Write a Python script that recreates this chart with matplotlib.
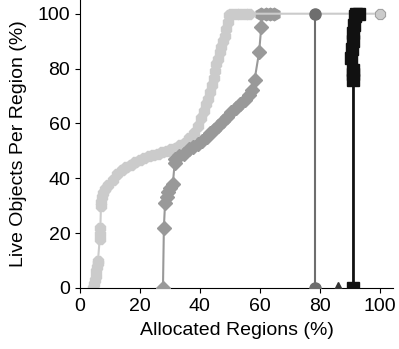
import matplotlib
matplotlib.use("Agg")
import matplotlib.pyplot as plt
import numpy as np

plt.rcParams["font.family"] = ["Liberation Sans", "DejaVu Sans"]

# Allocated regions (%) vs live objects per region (%)
light_x = [4.5, 4.8, 5.0, 5.2, 5.4, 5.6, 5.9, 6.0, 6.6, 6.7, 6.8, 7.0, 7.1, 7.3, 7.7, 8.4,
           9.5, 11.0, 12.5, 14.0, 15.5, 17.0, 18.5, 20.0, 21.5, 23.0, 24.5, 26.0, 27.5,
           29.0, 30.5, 32.0, 33.5, 35.0, 36.5, 38.0, 39.5, 40.5, 41.3, 42.0, 42.7, 43.4,
           44.0, 44.6, 45.0, 45.5, 46.0, 46.6, 47.2, 47.8, 48.3, 48.8, 49.3, 49.8, 50.5,
           52.0, 53.5, 55.0, 56.5, 100.0]
light_y = [0, 1.5, 3, 4.5, 6, 7.5, 9, 10, 18, 19.5, 22, 30, 31.5, 33, 34.5, 36,
           37.5, 39.5, 41.5, 43, 44, 45, 46, 46.8, 47.5, 48, 48.5, 49, 49.5,
           50, 50.5, 51.2, 52, 53, 54.5, 56.5, 59, 62, 64.5, 67, 69, 71.5,
           74, 76.5, 79, 81.5, 83.5, 86, 88, 90, 92, 94.5, 97, 99.5, 100,
           100, 100, 100, 100, 100]

mid_x = [27.7, 28.0, 28.4, 28.9, 29.5, 30.2, 31.0, 31.6, 31.8, 33.2, 34.8, 36.3, 37.8,
         39.3, 40.8, 42.3, 43.5, 44.8, 46.2, 47.6, 49.0, 50.5, 52.0, 53.5, 55.0, 56.5,
         57.5, 58.3, 59.8, 60.5]
mid_y = [0, 22, 31, 33, 35, 36.5, 38, 45.5, 47, 48, 49, 50.5, 51.5,
         52.5, 53.5, 55, 56.5, 57.5, 59, 61, 62.5, 64, 65.5, 67, 68.5, 70.5,
         72, 76, 86, 95]
hex_x = [60.5, 62.0, 63.5, 64.7]
hex_y = [100, 100, 100, 100]

dark_x = [78.3, 78.3]
dark_y = [0, 100]

tri_x = [86.0]
tri_y = [0]

black_x = [91.3, 91.3, 91.3, 91.3, np.nan, 90.6, 90.8, 91.0, 91.2, 91.5, 91.9, 92.3, 93.0]
black_y = [0, 76, 78, 79.5, np.nan, 84, 87, 90, 93, 96, 99, 100, 100]

LIGHT = "#cbcbcb"
MID = "#999999"
DARK = "#6e6e6e"
BLACK = "#111111"

fig = plt.figure(figsize=(3.99, 3.49), dpi=100)
ax = fig.add_axes([0.2005, 0.175, 0.7845, 0.825])

ax.plot(hex_x, hex_y, color=MID, marker="h", markersize=9, linestyle="none", zorder=1)
ax.plot(light_x, light_y, color=LIGHT, marker="8", markersize=8.5, linewidth=1.5,
        markeredgecolor=LIGHT, zorder=2)
ax.plot(light_x[-1:], light_y[-1:], color=LIGHT, marker="8", markersize=8.5,
        markeredgecolor="#999999", markeredgewidth=0.6, linestyle="none", zorder=2)
ax.plot(mid_x, mid_y, color=MID, marker="D", markersize=7, linewidth=1.5, zorder=3)
ax.plot(dark_x, dark_y, color=DARK, marker="o", markersize=8, linewidth=1.5, zorder=4)
ax.plot(tri_x, tri_y, color="#333333", marker="^", markersize=8, linestyle="none", zorder=4)
ax.plot(black_x, black_y, color=BLACK, marker="s", markersize=8.5, linewidth=2,
        markeredgecolor=BLACK, zorder=5)

ax.set_xlim(0, 104.5)
ax.set_ylim(0, 105)
ax.set_xticks([0, 20, 40, 60, 80, 100])
ax.set_yticks([0, 20, 40, 60, 80, 100])
ax.tick_params(labelsize=14)
ax.spines["top"].set_visible(False)
ax.spines["right"].set_visible(False)
ax.set_xlabel("Allocated Regions (%)", fontsize=14, labelpad=5)
ax.set_ylabel("Live Objects Per Region (%)", fontsize=14, labelpad=8)

fig.savefig("out.png", dpi=100)
